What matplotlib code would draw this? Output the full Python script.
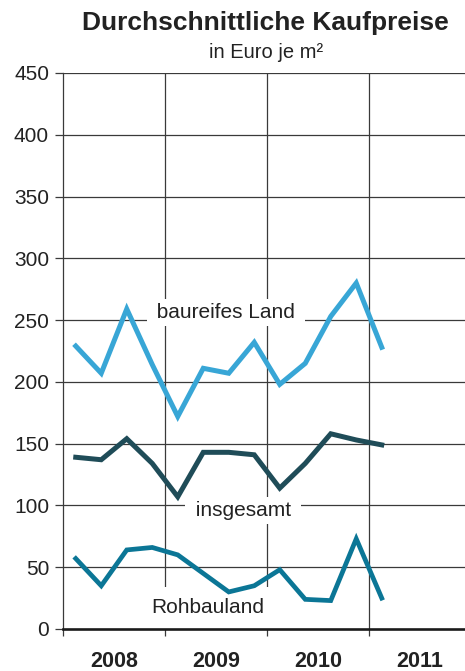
import matplotlib
matplotlib.use("Agg")
import matplotlib.pyplot as plt
import numpy as np

plt.rcParams['font.family'] = ['Liberation Sans', 'DejaVu Sans']

years = ["2008", "2009", "2010", "2011"]
quarters = ["2008Q1", "2008Q2", "2008Q3", "2008Q4",
            "2009Q1", "2009Q2", "2009Q3", "2009Q4",
            "2010Q1", "2010Q2", "2010Q3", "2010Q4",
            "2011Q1"]
baureifes_land = [229, 207, 259, 214, 172, 211, 207, 232, 198, 215, 253, 280, 228]
insgesamt = [139, 137, 154, 134, 107, 143, 143, 141, 114, 134, 158, 153, 149]
rohbauland = [57, 35, 64, 66, 60, 45, 30, 35, 48, 24, 23, 73, 25]
yticks = [0, 50, 100, 150, 200, 250, 300, 350, 400, 450]

# x position: middle of each quarter, in years since start of 2008
xpos = np.array([(int(q[:4]) - 2008) + (int(q[-1]) - 0.5) / 4 for q in quarters])

fig = plt.figure(figsize=(4.65, 6.71), dpi=100)
ax = fig.add_axes([63 / 465, 1 - 629 / 671, 1 - 63 / 465, (629 - 73) / 671])

grid_c = '#3a3a3a'
ax.set_ylim(0, 450)
ax.set_xlim(0, (465 - 63) / 102)

for y in yticks[1:]:
    ax.axhline(y, color=grid_c, lw=0.9, zorder=1)
for x in [1, 2, 3]:
    ax.axvline(x, color=grid_c, lw=0.9, zorder=1)
ax.axhline(0, color='#1a1a1a', lw=1.9, zorder=5, clip_on=False)

for s in ['top', 'right', 'bottom']:
    ax.spines[s].set_visible(False)
ax.spines['left'].set_color(grid_c)
ax.spines['left'].set_linewidth(0.9)

ax.set_yticks(yticks)
ax.set_yticklabels([str(v) for v in yticks])
ax.tick_params(axis='y', length=6, width=0.9, color=grid_c, pad=4,
               labelsize=15, labelcolor='#222222')

ax.set_xticks([0, 1, 2, 3])
ax.set_xticklabels([])
ax.set_xticks([0.5, 1.5, 2.5, 3.5], minor=True)
ax.set_xticklabels(years, minor=True, fontsize=15.5, fontweight='bold', color='#222222')
ax.tick_params(axis='x', which='major', length=5, width=0.9, color=grid_c, direction='out')
ax.tick_params(axis='x', which='minor', length=0, pad=16)

ax.plot(xpos, baureifes_land, color='#38a6d6', lw=3.6, zorder=4, solid_joinstyle='miter')
ax.plot(xpos, insgesamt, color='#1f4c58', lw=3.6, zorder=4, solid_joinstyle='miter')
ax.plot(xpos, rohbauland, color='#0b7696', lw=3.4, zorder=4, solid_joinstyle='miter')

bb = dict(boxstyle='square,pad=0.2', fc='white', ec='none')
bb2 = dict(boxstyle='square,pad=0.55', fc='white', ec='none')
ax.text(1.60, 256, ' baureifes Land ', ha='center', va='center', fontsize=15,
        color='#222222', bbox=bb, zorder=3)
ax.text(1.765, 96, ' insgesamt ', ha='center', va='center', fontsize=15,
        color='#222222', bbox=bb, zorder=3)
ax.text(1.42, 17, 'Rohbauland', ha='center', va='center', fontsize=15,
        color='#222222', bbox=bb2, zorder=3)

fig.text(265 / 465, 1 - 23 / 671, 'Durchschnittliche Kaufpreise', ha='center', va='center',
         fontsize=19, fontweight='bold', color='#222222')
fig.text(266 / 465, 1 - 52 / 671, 'in Euro je m²', ha='center', va='center',
         fontsize=14.5, color='#222222')

fig.savefig('out.png', dpi=100)
